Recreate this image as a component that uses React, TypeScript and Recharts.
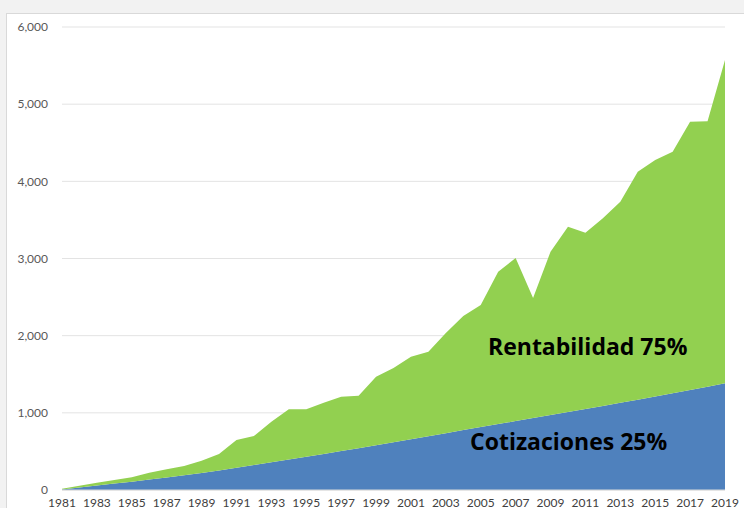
import React from "react";
import { AreaChart, Area, XAxis, YAxis, CartesianGrid } from "recharts";

const years = [
  "1981", "1982", "1983", "1984", "1985", "1986", "1987", "1988", "1989", "1990",
  "1991", "1992", "1993", "1994", "1995", "1996", "1997", "1998", "1999", "2000",
  "2001", "2002", "2003", "2004", "2005", "2006", "2007", "2008", "2009", "2010",
  "2011", "2012", "2013", "2014", "2015", "2016", "2017", "2018", "2019",
];

const cotizaciones = [
  8, 33, 58, 83, 108, 135, 162, 190, 220, 254,
  289, 324, 360, 396, 432, 468, 504, 540, 579, 618,
  657, 696, 736, 776, 815, 854, 893, 932, 971, 1010,
  1050, 1090, 1130, 1171, 1212, 1254, 1296, 1339, 1382,
];

const rentabilidad = [
  7, 22, 37, 47, 56, 89, 106, 121, 160, 212,
  359, 376, 525, 650, 614, 663, 705, 682, 889, 963,
  1071, 1096, 1298, 1479, 1582, 1975, 2113, 1556, 2117, 2402,
  2284, 2430, 2606, 2954, 3064, 3130, 3477, 3439, 4190,
];

const yTicks = [0, 1000, 2000, 3000, 4000, 5000, 6000];

const data = years.map((y, i) => ({
  year: y,
  cotizaciones: cotizaciones[i],
  rentabilidad: rentabilidad[i],
}));

const fmt = (v: number) => v.toLocaleString("en-US");

const labelStyle: React.CSSProperties = {
  position: "absolute",
  fontFamily: "'Open Sans'",
  fontWeight: 700,
  fontSize: 23,
  color: "#000",
  whiteSpace: "nowrap",
  lineHeight: "26px",
};

export default function App() {
  return (
    <div
      style={{
        position: "fixed",
        left: 0,
        top: 0,
        width: 744,
        height: 508,
        background: "#f2f2f2",
        overflow: "hidden",
      }}
    >
      <div
        style={{
          position: "absolute",
          left: 6,
          top: 13,
          width: 760,
          height: 520,
          background: "#ffffff",
          borderTop: "1px solid #d9d9d9",
          borderLeft: "1px solid #d9d9d9",
        }}
      />
      <div style={{ position: "absolute", left: 6, top: 13 }}>
        <AreaChart
          width={738}
          height={495}
          data={data}
          margin={{ top: 14, right: 19, bottom: 0, left: 0 }}
        >
          <CartesianGrid vertical={false} stroke="#e3e3e3" />
          <XAxis
            dataKey="year"
            interval={1}
            tickLine={false}
            axisLine={{ stroke: "#d9d9d9" }}
            height={18}
            tickSize={6}
            tickMargin={2}
            tick={{ fill: "#404040", fontSize: 12, fontFamily: "Lato" }}
          />
          <YAxis
            domain={[0, 6000]}
            ticks={yTicks}
            tickFormatter={fmt}
            width={56}
            tickLine={false}
            axisLine={false}
            tickSize={0}
            tickMargin={14}
            tick={{ fill: "#595959", fontSize: 12, fontFamily: "Lato" }}
          />
          <Area
            type="linear"
            dataKey="cotizaciones"
            stackId="a"
            stroke="none"
            fill="#4f81bd"
            fillOpacity={1}
            isAnimationActive={false}
          />
          <Area
            type="linear"
            dataKey="rentabilidad"
            stackId="a"
            stroke="none"
            fill="#92d050"
            fillOpacity={1}
            isAnimationActive={false}
          />
        </AreaChart>
      </div>
      <div style={{ ...labelStyle, left: 488, top: 333 }}>Rentabilidad 75%</div>
      <div style={{ ...labelStyle, left: 470, top: 428 }}>Cotizaciones 25%</div>
    </div>
  );
}
